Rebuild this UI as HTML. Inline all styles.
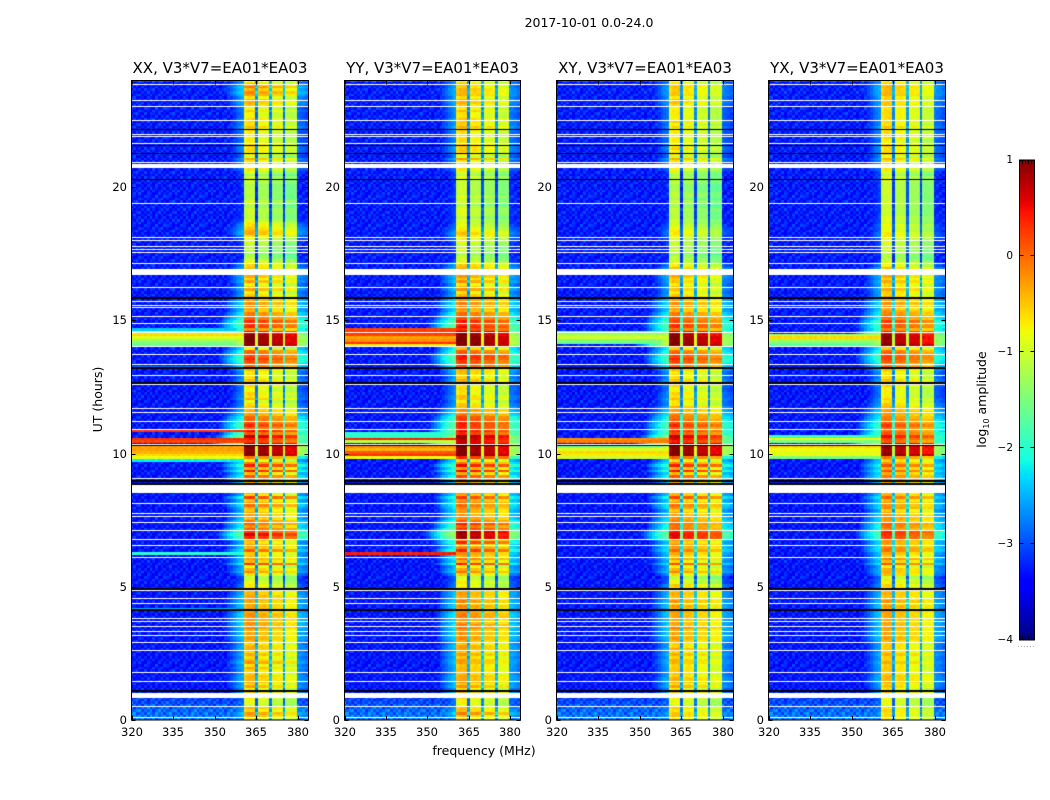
<!DOCTYPE html>
<html lang="en">
<head>
<meta charset="utf-8">
<title>2017-10-01 0.0-24.0</title>
<style>
html,body{margin:0;padding:0;background:#fff}
#figure{position:relative;width:1050px;height:800px;overflow:hidden;background:#fff}
canvas{position:absolute;top:80px;display:block}
#overlay{position:absolute;left:0;top:0}
text{font-family:"DejaVu Sans","Liberation Sans",sans-serif;fill:#000}
</style>
</head>
<body>
<div id="figure">
<canvas id="heat0" width="177" height="640" style="left:131px"></canvas>
<canvas id="heat1" width="177" height="640" style="left:344px"></canvas>
<canvas id="heat2" width="177" height="640" style="left:556px"></canvas>
<canvas id="heat3" width="177" height="640" style="left:768px"></canvas>
<svg id="overlay" width="1050" height="800" xmlns="http://www.w3.org/2000/svg">
<defs><linearGradient id="jetGradient" x1="0" y1="1" x2="0" y2="0"></linearGradient></defs>
<text x="589" y="27" text-anchor="middle" font-size="12.5">2017-10-01 0.0-24.0</text>
<text x="484" y="755" text-anchor="middle" font-size="12.5">frequency (MHz)</text>
<text x="102" y="399.5" text-anchor="middle" font-size="12.5" transform="rotate(-90 102 399.5)">UT (hours)</text>
<text x="986" y="399.5" text-anchor="middle" font-size="12.5" transform="rotate(-90 986 399.5)">log<tspan font-size="8" dy="3">10</tspan><tspan dy="-3"> amplitude</tspan></text>
</svg>
</div>
<script>
// Axis values
const freqTicks = [320, 335, 350, 365, 380];
const hourTicks = [0, 5, 10, 15, 20];
const colorTicks = [1, 0, -1, -2, -3, -4];
const panelTitles = ["XX, V3*V7=EA01*EA03", "YY, V3*V7=EA01*EA03", "XY, V3*V7=EA01*EA03", "YX, V3*V7=EA01*EA03"];
const panelKeys = ["xx", "yy", "xy", "yx"];

// Frequency channels (MHz), one per heatmap column
const channels = [320,321,322,323,324,325,326,327,328,329,330,331,332,333,334,335,336,337,338,339,340,341,342,343,344,345,346,347,348,349,350,351,352,353,354,355,356,357,358,359,360,361,362,363,364,365,366,367,368,369,370,371,372,373,374,375,376,377,378,379,380,381,382,383,384];

// log10 amplitude of each channel relative to the band level of its row
const channelOffsets = [-99,-99,-99,-99,-99,-99,-99,-99,-99,-99,-99,-99,-99,-99,-99,-99,-99,-99,-99,-99,-99,-99,-99,-99,-99,-4.65,-4.45,-4.25,-4.05,-3.85,-3.65,-3.45,-3.25,-3.05,-2.85,-2.65,-2.5,-2.35,-2.2,-2.1,-2.0,0,0.1,0.1,0.1,-2.0,-0.1,-0.05,-0.05,-0.1,-1.9,-0.2,-0.2,-0.2,-0.2,-2.0,-0.35,-0.35,-0.35,-0.35,-2.1,-2.15,-2.2,-2.3,-2.3];

// Band level per 0.1 h row, in tenths of log10 amplitude, starting at 0 h
const bandLevelsXX = [
-7,-5,-4,-6,-6,-9,-9,-9,-8,-8,-6,-7,-5,-6,-5,-5,-5,-6,-6,-5,-6,-4,-5,-6,-5,-6,-5,-5,-6,-5,
-4,-4,-4,-4,-3,-3,-3,-3,-3,-3,-4,-4,-4,-4,-4,-4,-4,-5,-6,-8,-8,-9,-10,-10,-7,-4,-5,-6,-1,-4,
-4,-5,-5,-2,-4,-4,-5,-3,2,4,2,0,-2,-1,-2,-4,-4,-4,-5,-4,-2,-3,-4,-1,-5,-5,-5,-5,-5,-4,
-2,-1,-3,1,-2,1,-2,-5,0,9,9,9,9,8,4,4,5,2,3,1,2,1,0,-1,-3,-4,-5,-6,-7,-8,
-6,-7,-7,-8,-8,-7,-7,-6,-7,-7,-7,-5,-2,-1,1,2,1,0,-1,-3,8,9,9,9,8,5,0,2,2,2,
0,-1,-2,-4,-4,-3,-3,-4,-5,-6,-7,-5,-6,-7,-5,-6,-5,-6,-6,-6,-7,-9,-10,-12,-13,-12,-12,-11,-11,-10,
-9,-7,-5,-5,-6,-7,-8,-10,-11,-11,-11,-11,-12,-12,-11,-12,-12,-12,-12,-12,-12,-11,-11,-11,-12,-10,-8,-7,-7,-7,
-6,-9,-8,-7,-7,-7,-8,-8,-8,-8,-8,-7,-6,-7,-7,-7,-8,-8,-7,-8,-6,-5,-5,-6,-4,-3,-4,-3,-5,-7];
const bandLevelsYY = [
-6,-5,-3,-5,-6,-8,-8,-8,-7,-7,-5,-6,-4,-5,-4,-4,-4,-5,-5,-5,-5,-4,-4,-5,-4,-5,-4,-4,-5,-4,
-3,-3,-3,-3,-2,-2,-3,-3,-2,-2,-3,-4,-3,-4,-3,-4,-4,-4,-5,-7,-8,-8,-9,-9,-6,-3,-4,-5,0,-3,
-2,-3,-2,1,-1,-2,1,0,6,7,7,3,1,2,0,-2,-3,-3,-3,-2,-1,-1,-2,0,-3,-3,-3,-3,-3,-3,
-1,0,-2,2,-1,2,-1,-3,3,9,9,9,9,9,7,7,7,4,4,3,3,3,2,1,-1,-3,-3,-5,-6,-7,
-6,-6,-7,-7,-7,-7,-6,-5,-6,-6,-5,-4,-1,1,2,3,3,1,0,-1,9,10,10,10,9,8,4,4,3,3,
1,0,-1,-3,-3,-2,-2,-3,-4,-5,-6,-4,-5,-6,-4,-5,-4,-5,-5,-5,-6,-8,-10,-11,-12,-11,-11,-10,-10,-9,
-8,-7,-6,-7,-8,-9,-10,-10,-11,-10,-10,-10,-11,-12,-11,-11,-10,-11,-11,-11,-11,-11,-11,-10,-11,-10,-8,-7,-7,-7,
-5,-8,-7,-6,-6,-6,-7,-7,-7,-7,-7,-6,-5,-6,-6,-6,-7,-7,-6,-7,-6,-5,-5,-6,-5,-5,-5,-6,-6,-7];
const bandLevelsXY = [
-7,-6,-6,-7,-7,-9,-9,-9,-8,-8,-6,-7,-5,-6,-5,-5,-6,-6,-6,-6,-6,-5,-5,-6,-5,-6,-5,-6,-6,-5,
-4,-4,-4,-4,-3,-4,-4,-4,-4,-4,-4,-5,-4,-5,-4,-5,-5,-5,-6,-8,-7,-9,-9,-10,-7,-4,-5,-6,-2,-5,
-4,-5,-4,-2,-3,-3,-4,-2,3,4,3,0,-1,-1,-2,-3,-4,-4,-5,-3,-2,-3,-4,-1,-4,-5,-5,-5,-5,-4,
-2,-1,-3,1,-2,1,-2,-4,1,9,9,9,9,9,5,5,5,2,2,1,2,1,0,-1,-2,-4,-4,-5,-7,-7,
-6,-7,-7,-8,-8,-7,-7,-6,-7,-7,-7,-5,-2,-1,1,2,1,0,-1,-2,8,9,9,9,8,6,1,2,2,1,
0,-1,-2,-4,-4,-3,-3,-4,-5,-6,-7,-6,-6,-7,-6,-6,-5,-6,-6,-6,-8,-10,-11,-12,-13,-12,-12,-12,-11,-11,
-10,-9,-8,-8,-9,-10,-11,-11,-12,-12,-12,-12,-13,-13,-12,-13,-12,-12,-13,-13,-13,-12,-12,-12,-12,-11,-9,-8,-7,-7,
-6,-9,-8,-8,-7,-8,-8,-8,-8,-8,-8,-8,-7,-8,-7,-8,-8,-8,-8,-8,-7,-6,-6,-7,-6,-6,-6,-6,-7,-8];
const bandLevelsYX = [
-7,-7,-7,-7,-8,-9,-9,-9,-9,-8,-6,-7,-6,-6,-5,-5,-5,-6,-6,-6,-6,-5,-6,-6,-5,-6,-6,-6,-6,-5,
-4,-4,-4,-4,-4,-4,-4,-4,-4,-4,-4,-5,-4,-5,-4,-5,-5,-5,-6,-8,-7,-8,-8,-9,-6,-5,-5,-6,-2,-4,
-3,-5,-4,-2,-2,-3,-3,-2,1,2,2,-1,-1,-1,-3,-3,-3,-4,-5,-3,-3,-3,-4,-2,-4,-5,-5,-5,-5,-4,
-2,-2,-3,-1,-3,-1,-3,-4,0,8,8,8,8,7,2,2,3,1,0,0,1,0,-1,-2,-3,-3,-4,-5,-6,-7,
-7,-8,-8,-8,-8,-7,-7,-6,-7,-7,-7,-5,-2,-2,0,1,1,0,-1,-2,7,8,8,8,7,4,0,1,1,1,
-1,-1,-2,-3,-4,-3,-3,-4,-5,-6,-6,-5,-6,-6,-5,-6,-5,-6,-6,-6,-8,-9,-11,-12,-12,-11,-11,-10,-10,-10,
-9,-8,-8,-9,-9,-9,-10,-10,-10,-11,-11,-11,-11,-11,-11,-11,-11,-11,-11,-11,-11,-11,-10,-10,-11,-10,-8,-7,-7,-7,
-6,-8,-7,-7,-7,-7,-8,-8,-7,-7,-7,-7,-6,-7,-7,-7,-7,-7,-7,-7,-6,-6,-6,-6,-5,-5,-5,-5,-6,-7];
const bandLevels = [bandLevelsXX, bandLevelsYY, bandLevelsXY, bandLevelsYX];

// Rows with broadband interference below 360 MHz, and their log10 amplitude
const rfiRowsXX = [41,62,97,98,99,100,101,102,104,105,108,132,140,141,142,143,144,145,146];
const rfiLevelsXX = [-2.5,-2,-2.2,-0.8,-0.6,-0.4,-0.3,-0.3,0.2,0.3,0.3,-2.8,-1.6,-1.5,-1.3,-0.9,-0.6,-1.2,-2.4];
const rfiRowsYY = [62,98,99,100,101,102,104,105,106,107,140,141,142,143,144,145,146];
const rfiLevelsYY = [0.4,-0.8,0.3,0.1,-0.4,-0.2,-1.1,0.4,-2,-2,-0.7,0.3,-0.2,-0.3,0.2,0.3,0.2];
const rfiRowsXY = [98,99,100,101,102,104,105,141,142,143,144,145];
const rfiLevelsXY = [-1,-0.7,-0.6,-0.9,-1.5,-0.1,-0.2,-1.6,-1.5,-1,-1.2,-1.6];
const rfiRowsYX = [98,99,100,101,102,104,105,106,140,141,142,143,144];
const rfiLevelsYX = [-1.5,-0.8,-0.9,-0.8,-0.6,-1.5,-0.8,-1.9,-1.7,-1.5,-1.3,-0.6,-1.2];
const rfiRows = [rfiRowsXX, rfiRowsYY, rfiRowsXY, rfiRowsYX];
const rfiLevels = [rfiLevelsXX, rfiLevelsYY, rfiLevelsXY, rfiLevelsYX];

// Noise floor by time
const floorHours = [0, 0.5, 0.8, 1.1, 9, 24];
const floorLevels = [-2.75, -2.95, -3.1, -3.3, -3.3, -3.25];

// Noise-floor grain, hand-typed tile, hundredths of log10 amplitude
const floorGrain = [
[12,-18,25,-6,30,-22,8,-12,18,-28,4,22,-9],
[-24,9,-4,20,-15,14,-30,26,-7,11,-19,3,16],
[6,28,-21,-11,5,-26,19,-3,-16,24,-8,13,-29],
[-13,-2,17,27,-23,7,-10,21,-25,1,29,-17,10],
[23,-27,2,-14,15,-5,31,-20,9,-12,-1,26,-6],
[-8,16,-19,10,-29,24,-4,12,28,-22,6,-15,20],
[27,-11,5,-24,18,-9,-17,3,-6,22,-26,14,-2],
[-20,13,30,-3,-12,25,-28,16,7,-10,19,-23,1],
[4,-25,-7,21,11,-16,2,-19,26,-4,12,29,-13],
[15,6,-22,-1,-27,20,10,-8,-14,31,-18,-5,24],
[-3,22,-12,28,-6,-21,17,5,-24,-9,23,-11,8]];

// Flagged times, hours. White = no data, black = below colour range
const whiteLines = [0.09,0.5,1.45,1.79,2.61,2.91,3.18,3.31,3.5,3.71,3.81,4.37,4.55,4.86,6.1,6.56,6.76,7.12,7.41,7.65,7.75,8.13,9.06,10.35,10.89,11.2,11.54,11.7,12.59,12.93,13.35,13.72,14.02,14.56,14.87,15.15,15.47,15.57,15.71,16.24,17.12,17.55,17.66,17.76,17.99,18.1,19.39,20.93,21.63,21.9,21.98,22.49,23.02,23.24,23.84];
const blackLines = [10.3,20.27,21.25,21.55,22.16];
const heavyBlackLines = [1.08,4.12,4.89,8.85,8.94,12.64,13.19,15.81];
const whiteBandStarts = [0.81, 8.52, 16.69, 20.71];
const whiteBandEnds = [1.0, 8.81, 16.93, 20.86];

// Jet colormap knots (fraction, channel value)
const jetRedAt = [0, 0.35, 0.66, 0.89, 1];
const jetRed = [0, 0, 1, 1, 0.5];
const jetGreenAt = [0, 0.125, 0.375, 0.64, 0.91, 1];
const jetGreen = [0, 0, 1, 1, 0, 0];
const jetBlueAt = [0, 0.11, 0.34, 0.65, 1];
const jetBlue = [0.5, 1, 1, 0, 0];

// Layout
const freqMin = 320, freqMax = 383.8, hourMin = 0, hourMax = 24;
const colorMin = -4, colorMax = 1;
const plotTop = 80.5, plotBottom = 720;
const frames = [{l:131.5,r:308.5},{l:344.5,r:520.5},{l:556.5,r:733.5},{l:768.5,r:945.5}];
const canvasLefts = [131, 344, 556, 768];
const canvasTop = 80;
const stripeGain = 0.8;
const barLeft = 1019.5, barRight = 1034.5, barTop = 160, barBottom = 640;
const SVGNS = "http://www.w3.org/2000/svg";
const overlay = document.getElementById("overlay");

function xScale(freq, frame) { return frame.l + (freq - freqMin) / (freqMax - freqMin) * (frame.r - frame.l); }
function yScale(hour) { return plotBottom - (hour - hourMin) / (hourMax - hourMin) * (plotBottom - plotTop); }
function colorScale(level) { return barBottom - (level - colorMin) / (colorMax - colorMin) * (barBottom - barTop); }

function interp(at, vals, t) {
  for (let i = 1; i < at.length; i++) {
    if (t <= at[i]) return vals[i-1] + (vals[i]-vals[i-1]) * (t-at[i-1]) / (at[i]-at[i-1]);
  }
  return vals[vals.length-1];
}
function jet(t) {
  t = Math.max(0, Math.min(1, t));
  const r = Math.round(255 * interp(jetRedAt, jetRed, t));
  const g = Math.round(255 * interp(jetGreenAt, jetGreen, t));
  const b = Math.round(255 * interp(jetBlueAt, jetBlue, t));
  return "rgb(" + r + "," + g + "," + b + ")";
}
function levelColor(v) { return jet((v - colorMin) / (colorMax - colorMin)); }

function floorAt(hour) { return interp(floorHours, floorLevels, hour); }

function drawHeatmap(p) {
  const canvas = document.getElementById("heat" + p);
  const ctx = canvas.getContext("2d");
  const frame = frames[p];
  const off = canvasLefts[p];
  const rfi = {};
  rfiRows[p].forEach(function (row, i) { rfi[row] = rfiLevels[p][i]; });
  const rows = bandLevels[p];
  rows.forEach(function (tenths, r) {
    const band = tenths / 10;
    const below = (r > 0 ? rows[r-1] : tenths) / 10;
    const above = (r < rows.length-1 ? rows[r+1] : tenths) / 10;
    const crisp = Math.min(1.05, band + stripeGain * (band - (below + above) / 2));
    const hour = r / 10;
    const y0 = Math.round(yScale(hour + 0.1) - canvasTop);
    const y1 = Math.round(yScale(hour) - canvasTop);
    channels.forEach(function (freq, c) {
      const grain = floorGrain[r % floorGrain.length][c % floorGrain[0].length] / 100;
      const base = floorAt(hour) + grain;
      const inBand = freq > 360 && freq < 380;
      let signal = (inBand ? crisp : band) + channelOffsets[c];
      if (rfi[r] !== undefined && freq <= 360) signal = Math.max(signal, rfi[r]);
      const v = signal > base ? signal + grain * 0.2 : base;
      const x0 = Math.round(xScale(freq - 0.5, frame) - off);
      const x1 = Math.round(xScale(freq + 0.6, frame) - off);
      ctx.fillStyle = levelColor(v);
      ctx.fillRect(x0, y0, x1 - x0, y1 - y0);
    });
  });
  const w = canvas.width;
  ctx.fillStyle = "#fff";
  whiteLines.forEach(function (h) { ctx.fillRect(0, Math.floor(yScale(h) - canvasTop), w, 1); });
  whiteBandStarts.forEach(function (h, i) {
    const t = Math.round(yScale(whiteBandEnds[i]) - canvasTop);
    ctx.fillRect(0, t, w, Math.round(yScale(h) - canvasTop) - t);
  });
  ctx.fillStyle = "#000";
  blackLines.forEach(function (h) { ctx.fillRect(0, Math.floor(yScale(h) - canvasTop), w, 1); });
  heavyBlackLines.forEach(function (h) { ctx.fillRect(0, Math.floor(yScale(h) - canvasTop) - 1, w, 2); });
}

function addLine(x1, y1, x2, y2, name) {
  const el = document.createElementNS(SVGNS, "line");
  el.setAttribute("x1", x1);
  el.setAttribute("y1", y1);
  el.setAttribute("x2", x2);
  el.setAttribute("y2", y2);
  el.setAttribute("stroke", "#000");
  el.setAttribute("stroke-width", "1");
  
  
  overlay.appendChild(el);
  return el;
}
function addText(x, y, str, size, anchor, name) {
  const el = document.createElementNS(SVGNS, "text");
  el.setAttribute("x", x);
  el.setAttribute("y", y);
  el.setAttribute("font-size", size);
  el.setAttribute("text-anchor", anchor);
  
  
  el.textContent = str;
  overlay.appendChild(el);
  return el;
}
function addFrame(x, y, w, h, name, fill) {
  const el = document.createElementNS(SVGNS, "rect");
  el.setAttribute("x", x);
  el.setAttribute("y", y);
  el.setAttribute("width", w);
  el.setAttribute("height", h);
  el.setAttribute("fill", fill);
  el.setAttribute("stroke", "#000");
  el.setAttribute("stroke-width", "1");
  
  
  overlay.appendChild(el);
  return el;
}
function minus(v) { return v < 0 ? "\u2212" + Math.abs(v) : String(v); }

function drawAxes(p) {
  const f = frames[p];
  const key = panelKeys[p];
  addFrame(f.l, plotTop, f.r - f.l, plotBottom - plotTop, "axes-frame-" + key, "none");
  addText((f.l + f.r) / 2, 73, panelTitles[p], 15, "middle", "panel-title-" + key);
  freqTicks.forEach(function (t) {
    const x = Math.round(xScale(t, f)) + 0.5;
    addLine(x, plotBottom, x, plotBottom - 4, "x-tick-" + key);
    addLine(x, plotTop, x, plotTop + 4, "x-tick-top-" + key);
    addText(x - 0.5, 736, String(t), 11.5, "middle", "x-tick-label-" + key);
  });
  hourTicks.forEach(function (t) {
    const y = Math.round(yScale(t)) + 0.5;
    addLine(f.l, y, f.l + 4, y, "y-tick-" + key);
    addLine(f.r, y, f.r - 4, y, "y-tick-right-" + key);
    addText(f.l - 4.5, Math.round(yScale(t)) + 4, String(t), 11.5, "end", "y-tick-label-" + key);
  });
}

function drawColorbar() {
  const grad = document.getElementById("jetGradient");
  for (let i = 0; i <= 64; i++) {
    const stop = document.createElementNS(SVGNS, "stop");
    stop.setAttribute("offset", i / 64);
    stop.setAttribute("stop-color", jet(i / 64));
    grad.appendChild(stop);
  }
  addFrame(barLeft, barTop, barRight - barLeft, barBottom - barTop, "colorbar", "url(#jetGradient)");
  colorTicks.forEach(function (t) {
    const y = Math.round(colorScale(t)) + (t === colorMax ? 0.5 : -0.5);
    addLine(barLeft, y, barLeft + 4, y, "colorbar-tick");
    addLine(barRight, y, barRight - 4, y, "colorbar-tick-right");
    addText(1013, Math.round(colorScale(t)) + 3, minus(t), 10.5, "end", "colorbar-tick-label");
  });
  [1022, 1025, 1028, 1031].forEach(function (x) {
    addLine(x + 0.5, barTop, x + 0.5, barTop + 4, "colorbar-end-tick");
    addLine(x + 0.5, barBottom, x + 0.5, barBottom - 4, "colorbar-end-tick");
  });
  const dots = addLine(1018, 646.5, 1035, 646.5, "colorbar-dotted-mark");
  dots.setAttribute("stroke", "#aaa");
  dots.setAttribute("stroke-dasharray", "1 2");
}

panelKeys.forEach(function (k, p) {
  drawHeatmap(p);
  drawAxes(p);
});
drawColorbar();
</script>
</body>
</html>
